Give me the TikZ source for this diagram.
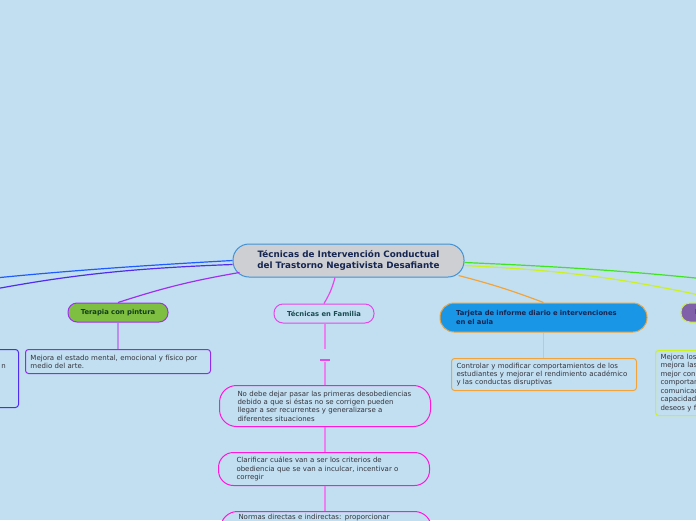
\documentclass[tikz,border=0pt]{standalone}
\usepackage{fontspec}
\setmainfont{DejaVu Sans}
\usetikzlibrary{positioning}

\definecolor{bgblue}{RGB}{194,223,241}
\definecolor{rootgray}{RGB}{206,207,210}
\definecolor{rootline}{RGB}{64,146,212}
\definecolor{navytxt}{RGB}{22,38,82}
\definecolor{notetxt}{RGB}{51,51,60}
\definecolor{paintgreen}{RGB}{126,190,64}
\definecolor{paintline}{RGB}{160,48,240}
\definecolor{paintstem}{RGB}{190,140,236}
\definecolor{paintnote}{RGB}{146,44,236}
\definecolor{famline}{RGB}{228,72,236}
\definecolor{famstem}{RGB}{236,128,240}
\definecolor{fambox}{RGB}{255,24,220}
\definecolor{cardblue}{RGB}{26,150,230}
\definecolor{cardline}{RGB}{242,164,58}
\definecolor{cardstem}{RGB}{240,190,120}
\definecolor{leftblue}{RGB}{30,92,255}
\definecolor{leftviolet}{RGB}{80,44,240}
\definecolor{rightgreen}{RGB}{64,228,32}
\definecolor{rightyellow}{RGB}{204,240,32}
\definecolor{rightpurple}{RGB}{128,96,168}

\begin{document}
\begin{tikzpicture}[x=1pt, y=-1pt,
    topic/.style={draw, line width=1pt, rounded corners=9pt, minimum width=100pt, minimum height=19pt,
        inner sep=2pt, font=\fontsize{6.8}{8.4}\selectfont\bfseries},
    note/.style={draw, line width=1pt, rounded corners=3pt, fill=bgblue, anchor=north west, align=left,
        text width=175pt, inner xsep=5pt, inner ysep=2pt, text=notetxt, font=\fontsize{7}{8.4}\selectfont},
    pill/.style={note, draw=fambox, rounded corners=17pt, inner xsep=18pt},
    branch/.style={line width=1.2pt},
    stem/.style={line width=1.3pt}
]
\fill[bgblue] (0,0) rectangle (696,520);
\useasboundingbox (0,0) rectangle (696,520);
\clip (0,0) rectangle (696,520);

% central idea
\node[draw=rootline, fill=rootgray, line width=1pt, rounded corners=16pt, minimum width=231pt, minimum height=33pt,
    align=center, text=navytxt, font=\fontsize{8.8}{11}\selectfont\bfseries] (root) at (348.5,260.5)
    {Técnicas de Intervención Conductual\\del Trastorno Negativista Desafiante};

% main topics
\node[topic, fill=paintgreen, draw=paintline, text={rgb,255:red,18;green,62;blue,30}] (paint) at (118,312.5) {Terapia con pintura};
\node[topic, fill=bgblue, draw=famline, text={rgb,255:red,24;green,76;blue,80}] (fam) at (324,313.5) {Técnicas en Familia};
\node[topic, fill=cardblue, draw=cardline, text=navytxt, rounded corners=14pt, minimum width=207pt, minimum height=29pt,
    text width=175pt, align=left, inner xsep=16pt] (card) at (543.5,317.5)
    {Tarjeta de informe diario e intervenciones\\en el aula};
\node[topic, fill=rightpurple, draw=rightyellow, text=navytxt, text width=76pt, align=left, inner xsep=14pt] (right) at (733,312.5) {F};
\coordinate (leftEnd) at (-74,303);
\coordinate (greenEnd) at (780,287);
\coordinate (blueEnd) at (-300,318);

% notes
\node[note, draw=paintnote, minimum height=24pt] (paintnote) at (25,349)
    {Mejora el estado mental, emocional y físico por\\medio del arte.};
\node[note, draw=cardline, minimum height=32pt] (cardnote) at (451,358)
    {Controlar y modificar comportamientos de los\\estudiantes y mejorar el rendimiento académico\\y las conductas disruptivas};
\node[note, draw=rightyellow, minimum height=65pt, font=\fontsize{7}{8.5}\selectfont] (rightnote) at (655,350)
    {Mejora los\\mejora las\\mejor con\\comportan\\comunicac\\capacidad\\deseos y f};
\node[note, draw=leftviolet, minimum height=58pt, text width=175pt] (leftnote) at (-167,349) {};
\node[text=notetxt, font=\fontsize{7}{8.4}\selectfont, inner sep=0pt, anchor=base east] (leftfrag) at (6,368) {n};

\node[pill, minimum height=41pt] (fam1) at (219,385)
    {No debe dejar pasar las primeras desobediencias\\debido a que si éstas no se corrigen pueden\\llegar a ser recurrentes y generalizarse a\\diferentes situaciones};
\node[pill, minimum height=33pt, rounded corners=15pt] (fam2) at (218,452)
    {Clarificar cuáles van a ser los criterios de\\obediencia que se van a inculcar, incentivar o\\corregir};
\node[pill, anchor=north west, inner ysep=3pt] (fam3) at (220,511)
    {Normas directas e indirectas: proporcionar\\~\\~\\~};

% branches from the central idea
\draw[branch, leftblue] (root.west) to[bend right=3] (blueEnd);
\draw[branch, leftviolet] ([yshift=-4pt]root.west) to[bend right=5] (leftEnd);
\draw[branch, paintline] ([xshift=7pt,yshift=5pt]root.south west) to[bend right=4] (paint.north);
\draw[branch, famline] ([xshift=-13.5pt]root.south) to[bend left=8] (fam.north);
\draw[branch, cardline] ([xshift=-6pt,yshift=2pt]root.south east) to[bend left=3] (card.north);
\draw[branch, rightgreen] ([yshift=-2pt]root.east) to[bend left=2] (greenEnd);
\draw[branch, rightyellow] ([yshift=-5pt]root.east) to[bend left=5] (right.north);

% stems to notes
\draw[stem, paintstem] (paint.south) -- (paintnote.north -| paint.south);
\draw[stem, cardstem] (card.south) -- (cardnote.north -| card.south);
\coordinate (bar) at (325,359.5);
\draw[stem, famstem] (fam.south -| bar) -- ([yshift=11pt]bar);
\draw[line width=2pt, famline] ([xshift=-5pt]bar) -- ([xshift=5pt]bar);
\draw[stem, famstem] ([yshift=-2.5pt]bar) -- (fam1.north -| bar);
\draw[stem, famstem] (fam1.south -| bar) -- (fam2.north -| bar);
\draw[stem, famstem] (fam2.south -| bar) -- (fam3.north -| bar);
\end{tikzpicture}
\end{document}
